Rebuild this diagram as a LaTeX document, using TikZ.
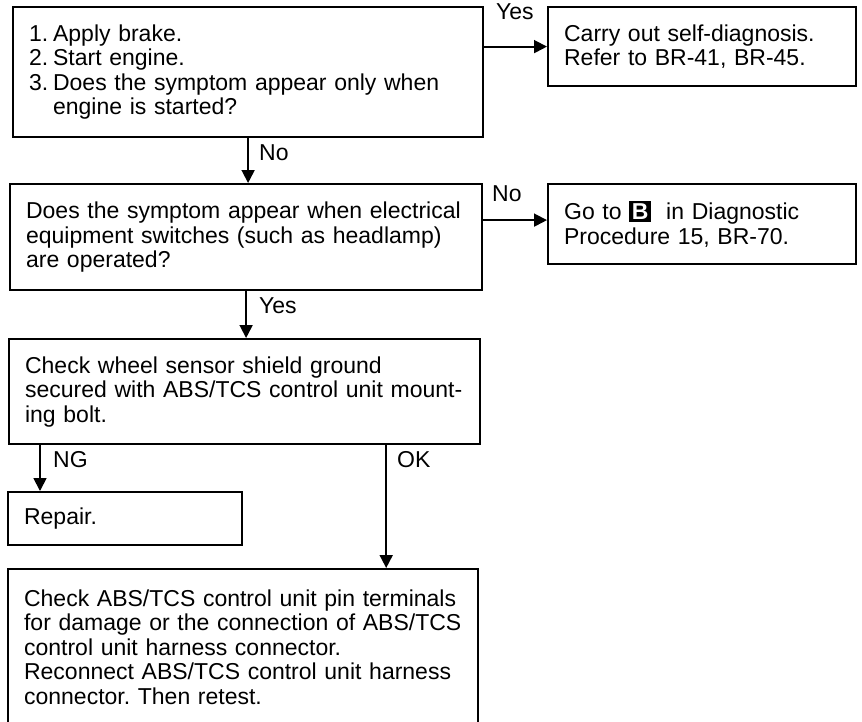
\documentclass[tikz,border=0pt]{standalone}
\usepackage{fontspec}
\setmainfont{Liberation Sans}
\usetikzlibrary{arrows.meta}
\newcommand{\keyB}{{\setlength{\fboxsep}{2.5pt}\colorbox{black}{\textcolor{white}{\textbf{B}}}}}
\tikzset{
  box/.style={draw, line width=2.2pt, anchor=north west, align=left,
    inner xsep=16pt, inner ysep=0pt,
    font=\frenchspacing\fontsize{23}{24.5}\selectfont},
  arr/.style={draw, line width=1.8pt, -{Triangle[length=13pt,width=13pt]}},
  lbl/.style={anchor=base west, inner sep=0pt, font=\fontsize{23}{24.5}\selectfont}
}
\begin{document}
\begin{tikzpicture}[x=1pt,y=-1pt]
\useasboundingbox (0,0) rectangle (862,721);
\clip (0,0) rectangle (862,721);
\node[box, minimum width=470, minimum height=130, text width=438] (b1) at (12,6)
  {\makebox[24pt][l]{1.}Apply brake.\\
   \makebox[24pt][l]{2.}Start engine.\\
   \makebox[24pt][l]{3.}Does the symptom appear only when\\
   \hspace*{24pt}engine is started?};
\node[box, minimum width=308, minimum height=79, text width=276] (b2) at (547,6)
  {Carry out self-diagnosis.\\ Refer to BR-41, BR-45.};
\node[box, minimum width=472, minimum height=106, text width=440] (b3) at (9,183)
  {Does the symptom appear when electrical\\
   equipment switches (such as headlamp)\\
   are operated?};
\node[box, minimum width=308, minimum height=80, text width=276] (b4) at (547,183)
  {Go to \keyB\ \ in Diagnostic\\ Procedure 15, BR-70.};
\node[box, minimum width=471, minimum height=105, text width=439] (b5) at (8,338)
  {Check wheel sensor shield ground\\
   secured with ABS/TCS control unit mount-\\
   ing bolt.};
\node[box, minimum width=234, minimum height=53, text width=202] (rep) at (7,491)
  {Repair.};
\node[box, minimum width=470, minimum height=156, text width=438] (b6) at (7,568)
  {Check ABS/TCS control unit pin terminals\\
   for damage or the connection of ABS/TCS\\
   control unit harness connector.\\
   Reconnect ABS/TCS control unit harness\\
   connector. Then retest.};
% connectors
\draw[arr] (b1.east |- b2.west) -- (b2.west);
\draw[arr] (b1.south) -- (b1.south |- b3.north);
\coordinate (s2) at ([yshift=17pt]b3.east);
\draw[arr] (s2) -- (s2 -| b4.west);
\draw[arr] (b3.south) -- (b3.south |- b5.north);
\coordinate (ng) at ([xshift=33pt]rep.north west);
\draw[arr] (b5.south -| ng) -- (ng);
\coordinate (ok) at ([xshift=-93pt]b6.north east);
\draw[arr] (b5.south -| ok) -- (ok);
% labels
\node[lbl] (l1) at (496,19) {Yes};
\node[lbl] (l2) at (259,160) {No};
\node[lbl] (l3) at (492,201) {No};
\node[lbl] (l4) at (259,313) {Yes};
\node[lbl] (l5) at (53,467) {NG};
\node[lbl] (l6) at (397,467) {OK};
\end{tikzpicture}
\end{document}
